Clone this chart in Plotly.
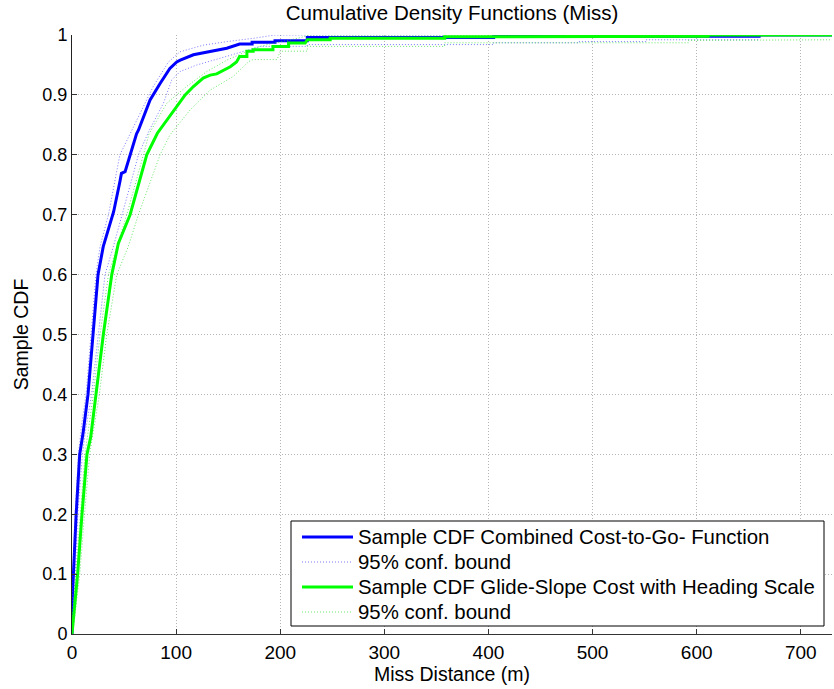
import plotly.graph_objects as go

# Empirical CDF of miss distance: combined cost-to-go function
blue_x = [0, 0.3, 1.5, 4, 7.4, 10.6, 15.4, 20.3, 25, 30, 34, 38.2, 40, 46, 47.5, 51, 55.8, 62, 63.8,
          75, 84.6, 94, 100.6, 104, 116.6, 132.7, 148.7, 161, 173, 173, 195, 195, 226, 226,
          405, 405, 660, 660, 730]
blue_F = [0, 0.06, 0.105, 0.2, 0.3, 0.335, 0.4, 0.5, 0.6, 0.6466, 0.67, 0.691, 0.705, 0.755, 0.769,
          0.772, 0.8, 0.835, 0.841, 0.8915, 0.919, 0.944, 0.955, 0.958, 0.967, 0.972, 0.978, 0.985,
          0.985, 0.988, 0.988, 0.9905, 0.9905, 0.996, 0.996, 0.998, 0.998, 1, 1]

# 95% confidence bounds (upper / lower)
blue_up_x = [0, 0.8, 3, 6.2, 9.3, 13.5, 18.3, 23, 26.9, 35, 46, 55.8, 68.6, 78, 92.6, 103.8, 126,
             148.7, 174, 185, 195, 730]
blue_up_F = [0.03, 0.1, 0.2, 0.3, 0.35, 0.4, 0.5, 0.6, 0.6466, 0.7, 0.8, 0.835, 0.88, 0.914, 0.955,
             0.972, 0.983, 0.989, 0.9944, 0.997, 1, 1]
blue_lo_x = [0.5, 1.5, 2.5, 5.5, 10, 13, 18.9, 25.3, 31.7, 39.7, 47.8, 59, 63.8, 74, 87.8, 95.8,
             103.8, 119.9, 142, 164.7, 180.8, 226, 226, 405, 405, 486, 486, 551, 551, 660]
blue_lo_F = [0, 0.04, 0.1, 0.2, 0.3, 0.34, 0.4, 0.5, 0.6, 0.6466, 0.7, 0.769, 0.8, 0.84, 0.886,
             0.925, 0.939, 0.95, 0.961, 0.972, 0.981, 0.981, 0.984, 0.984, 0.987, 0.987, 0.989,
             0.989, 0.992, 0.992]

# Empirical CDF of miss distance: glide-slope cost with heading scale
green_x = [0, 5.4, 9.6, 14.4, 18, 23, 30.1, 38.2, 44.5, 55.8, 63.8, 71.8, 82, 99, 108.7, 116.6,
           126, 132.7, 139, 152, 158, 161, 168, 168, 174, 174, 193, 193, 208, 208, 224, 226, 248,
           248, 358, 358, 553, 553, 594, 594, 611, 611, 730]
green_F = [0, 0.1, 0.2, 0.3, 0.329, 0.4, 0.5, 0.6, 0.652, 0.7, 0.752, 0.8, 0.836, 0.878, 0.9,
           0.914, 0.928, 0.933, 0.935, 0.947, 0.955, 0.964, 0.964, 0.973, 0.973, 0.9755, 0.9755,
           0.981, 0.981, 0.9866, 0.9866, 0.992, 0.992, 0.9945, 0.9945, 0.997, 0.997, 0.9975,
           0.9975, 0.998, 0.998, 1, 1]

green_up_x = [0, 3.5, 7.5, 12.5, 20.5, 27, 35, 43, 52.6, 68.6, 74, 91, 110, 129.5, 148.7, 171,
              180.8, 190, 205, 218, 228, 730]
green_up_F = [0.02, 0.1, 0.2, 0.3, 0.4, 0.5, 0.6, 0.6466, 0.7, 0.8, 0.835, 0.886, 0.914, 0.939,
              0.958, 0.975, 0.981, 0.985, 0.99, 0.995, 1, 1]
green_lo_x = [0.5, 7.5, 12, 17, 26.3, 33.4, 43, 54, 63.8, 76.6, 84.6, 94, 113.5, 132.7, 155,
              161.5, 170, 174, 197, 200, 226, 226, 358, 358, 592, 592, 607, 607, 730]
green_lo_F = [0, 0.1, 0.2, 0.3, 0.4, 0.5, 0.6, 0.6466, 0.7, 0.761, 0.8, 0.833, 0.875, 0.908,
              0.931, 0.942, 0.956, 0.959, 0.959, 0.973, 0.973, 0.981, 0.981, 0.987, 0.987, 0.991,
              0.991, 0.992, 0.992]

x_ticks = [0, 100, 200, 300, 400, 500, 600, 700]
y_ticks = [0, 0.1, 0.2, 0.3, 0.4, 0.5, 0.6, 0.7, 0.8, 0.9, 1]
y_tick_text = ["0", "0.1", "0.2", "0.3", "0.4", "0.5", "0.6", "0.7", "0.8", "0.9", "1"]

legend_labels = ["Sample CDF Combined Cost-to-Go- Function", "95% conf. bound",
                 "Sample CDF Glide-Slope Cost with Heading Scale", "95% conf. bound"]

BLUE = "#0000ff"
GREEN = "#00ff00"
BLUE_BOUND = "rgba(50,50,255,0.65)"
GREEN_BOUND = "rgba(40,220,40,0.7)"
FONT = "Liberation Sans, Arial, sans-serif"

# plot-area geometry in pixels (figure is 834 x 689)
W, H = 834, 689
L, R, T, B = 72, 2, 35, 55
PW, PH = W - L - R, H - T - B


def px(x):
    return (x - L) / PW


def py(y):
    return (H - B - y) / PH


def joined(x1, y1, x2, y2):
    """Join two bound curves into one trace separated by a gap."""
    return list(x1) + [None] + list(x2), list(y1) + [None] + list(y2)


fig = go.Figure()

fig.add_trace(go.Scatter(x=blue_x, y=blue_F, mode="lines",
                         line=dict(color=BLUE, width=3), name=legend_labels[0]))
bx, by = joined(blue_up_x, blue_up_F, blue_lo_x, blue_lo_F)
fig.add_trace(go.Scatter(x=bx, y=by, mode="lines", connectgaps=False,
                         line=dict(color=BLUE_BOUND, width=1, dash="1px,2px"),
                         name=legend_labels[1]))
fig.add_trace(go.Scatter(x=green_x, y=green_F, mode="lines",
                         line=dict(color=GREEN, width=3), name=legend_labels[2]))
gx, gy = joined(green_up_x, green_up_F, green_lo_x, green_lo_F)
fig.add_trace(go.Scatter(x=gx, y=gy, mode="lines", connectgaps=False,
                         line=dict(color=GREEN_BOUND, width=1, dash="1px,2px"),
                         name=legend_labels[3]))

# Legend panel (box, line samples, labels)
box = dict(x0=291, x1=824, y0=521, y1=626)
row_y = [537, 562, 587, 612]
sample_x = (302, 353)
text_x = 356
styles = [dict(color=BLUE, width=3), dict(color=BLUE_BOUND, width=1, dash="1px,2px"),
          dict(color=GREEN, width=3), dict(color=GREEN_BOUND, width=1, dash="1px,2px")]

shapes = [dict(type="rect", xref="paper", yref="paper", layer="above",
               x0=px(box["x0"]), x1=px(box["x1"]), y0=py(box["y1"]), y1=py(box["y0"]),
               fillcolor="white", line=dict(color="black", width=1))]
annotations = []
for label, yy, st in zip(legend_labels, row_y, styles):
    shapes.append(dict(type="line", xref="paper", yref="paper", layer="above",
                       x0=px(sample_x[0]), x1=px(sample_x[1]), y0=py(yy), y1=py(yy),
                       line=st))
    annotations.append(dict(text=label, xref="paper", yref="paper", x=px(text_x), y=py(yy),
                            xanchor="left", yanchor="middle", showarrow=False,
                            font=dict(family=FONT, size=20.4, color="black")))

fig.update_layout(
    width=W, height=H,
    margin=dict(l=L, r=R, t=T, b=B),
    paper_bgcolor="white", plot_bgcolor="white",
    font=dict(family=FONT, size=18, color="black"),
    title=dict(text="Cumulative Density Functions (Miss)", x=0.542, xanchor="center",
               y=0.982, yanchor="middle", font=dict(size=20.5)),
    showlegend=False,
    shapes=shapes,
    annotations=annotations,
)
fig.update_xaxes(range=[0, 730], tickvals=x_ticks, ticks="inside", ticklen=5,
                 tickcolor="#333333", showline=True, linecolor="#333333", linewidth=1,
                 showgrid=True, gridcolor="#b4b4b4", griddash="1px,2px", gridwidth=1,
                 zeroline=False, tickfont=dict(size=19), ticklabelstandoff=1,
                 title=dict(text="Miss Distance (m)", font=dict(size=19.5), standoff=0))
fig.update_yaxes(range=[0, 1], tickvals=y_ticks, ticktext=y_tick_text, ticks="inside",
                 ticklen=5, tickcolor="#333333", showline=True, linecolor="#222222",
                 linewidth=1, showgrid=True, gridcolor="#b4b4b4", griddash="1px,2px", gridwidth=1,
                 zeroline=False, tickfont=dict(size=18),
                 title=dict(text="Sample CDF", font=dict(size=19.5), standoff=8))

fig.write_html("out.html")
